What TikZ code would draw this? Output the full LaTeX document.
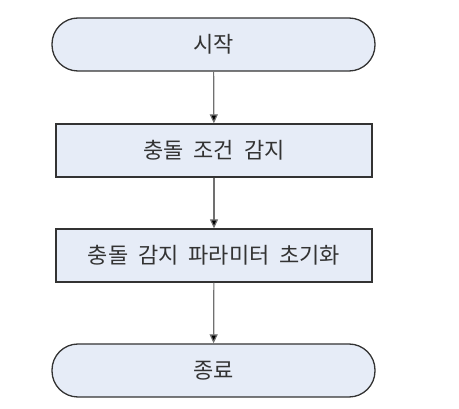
\documentclass[tikz,border=0pt]{standalone}
\usepackage{fontspec}
\newfontfamily\kofont[WordSpace=2]{Noto Sans CJK KR}
\usetikzlibrary{arrows.meta}
\definecolor{boxfill}{HTML}{E6ECF7}
\definecolor{boxline}{HTML}{333333}
\definecolor{flowline}{HTML}{707070}

\tikzset{
  terminal/.style={draw=boxline, fill=boxfill, line width=1.3pt,
    rounded corners=26pt, minimum width=323pt, minimum height=53pt,
    font=\kofont\fontsize{22}{24}\selectfont, text=black!80, inner sep=0pt},
  process/.style={draw=boxline, fill=boxfill, line width=1.3pt,
    minimum width=316pt, minimum height=53pt,
    font=\kofont\fontsize{22}{24}\selectfont, text=black!80, inner sep=0pt},
  flow/.style={draw=flowline, line width=1.2pt, -{Triangle[length=9pt,width=8pt,fill=black]}}
}

\begin{document}
\begin{tikzpicture}[x=1pt,y=-1pt]

% Frame
\useasboundingbox (0,0) rectangle (459,409);

% Nodes
\node[terminal] (start) at (213.5,44.5)  {시작};                     % Start
\node[process]  (detect) at (214,150.5)  {충돌 조건 감지};           % Detect
\node[process]  (init)   at (214,255.5)  {충돌 감지 파라미터 초기화}; % Init
\node[terminal] (stop)   at (213.5,370.5) {종료};                    % End

% Connectors
\draw[flow] (start) -- (detect);
\draw[flow] (detect) -- (init);
\draw[flow] (init) -- (stop);

\end{tikzpicture}
\end{document}
